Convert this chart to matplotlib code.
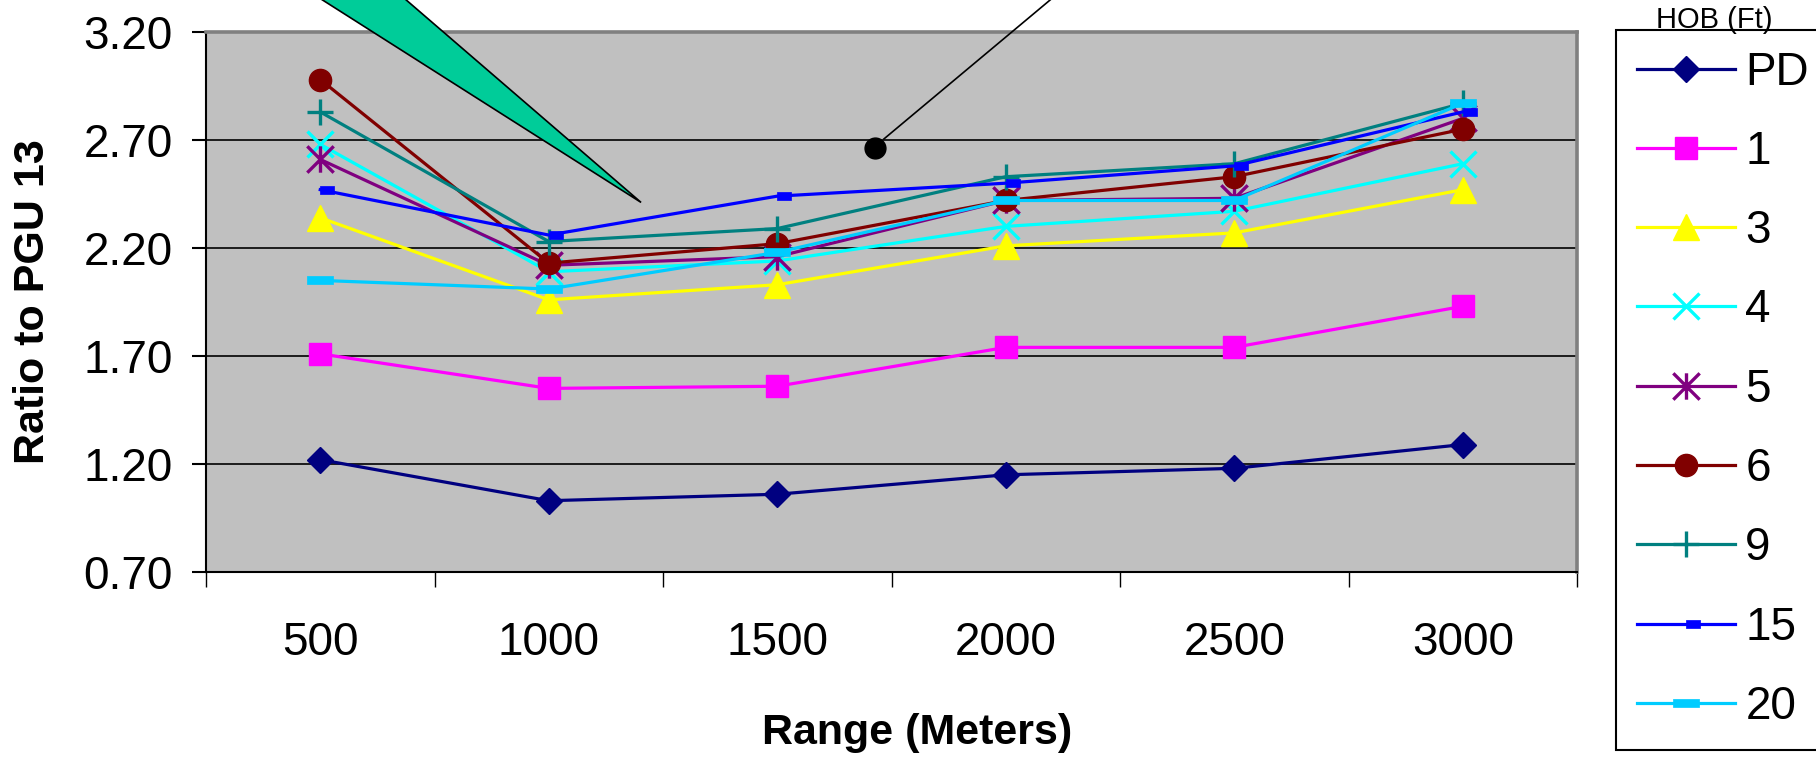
import numpy as np
import matplotlib
matplotlib.use('Agg')
import matplotlib.pyplot as plt
from matplotlib.path import Path
from matplotlib.patches import Polygon

plt.rcParams['font.family'] = ['Liberation Sans', 'DejaVu Sans']

# ratio to PGU 13 vs range, one series per height of burst
ranges = ['500', '1000', '1500', '2000', '2500', '3000']
hob_labels = ['PD', '1', '3', '4', '5', '6', '9', '15', '20']
hob_pd = [1.22, 1.03, 1.06, 1.15, 1.18, 1.29]
hob_1 = [1.71, 1.55, 1.56, 1.74, 1.74, 1.93]
hob_3 = [2.34, 1.96, 2.03, 2.21, 2.27, 2.47]
hob_4 = [2.68, 2.09, 2.14, 2.30, 2.37, 2.59]
hob_5 = [2.61, 2.12, 2.16, 2.42, 2.43, 2.80]
hob_6 = [2.98, 2.13, 2.22, 2.42, 2.53, 2.75]
hob_9 = [2.83, 2.23, 2.29, 2.53, 2.59, 2.87]
hob_15 = [2.47, 2.26, 2.44, 2.50, 2.58, 2.83]
hob_20 = [2.05, 2.01, 2.18, 2.42, 2.42, 2.87]
y_ticks = [0.70, 1.20, 1.70, 2.20, 2.70, 3.20]

# excel-style markers that matplotlib lacks
asterisk = Path([(0, -1), (0, 1), (-1, -1), (1, 1), (-1, 1), (1, -1)],
                [Path.MOVETO, Path.LINETO] * 3)
short_dash = Path([(0, -0.3), (1, -0.3), (1, 0.3), (0, 0.3), (0, -0.3)],
                  [Path.MOVETO, Path.LINETO, Path.LINETO, Path.LINETO, Path.CLOSEPOLY])
long_dash = Path([(-1, -0.3), (1, -0.3), (1, 0.3), (-1, 0.3), (-1, -0.3)],
                 [Path.MOVETO, Path.LINETO, Path.LINETO, Path.LINETO, Path.CLOSEPOLY])

styles = [
    (hob_pd, '#000080', 'D', 13.5, 1),
    (hob_1, '#FF00FF', 's', 16, 1),
    (hob_3, '#FFFF00', '^', 19, 1),
    (hob_4, '#00FFFF', 'x', 19, 2.4),
    (hob_5, '#800080', asterisk, 19, 2.4),
    (hob_6, '#800000', 'o', 16, 1),
    (hob_9, '#008080', '+', 19, 2.4),
    (hob_15, '#0000FF', short_dash, 20, 0.5),
    (hob_20, '#00CCFF', long_dash, 19, 0.5),
]

fig = plt.figure(figsize=(18.16, 7.57), dpi=100)
ax = fig.add_axes([206/1816, 1 - 572/757, (1577 - 206)/1816, (572 - 32)/757])
ax.set_facecolor('#C0C0C0')

x = np.arange(len(ranges))
handles = []
for (vals, color, marker, ms, mew), lab in zip(styles, hob_labels):
    h, = ax.plot(x, vals, color=color, lw=2.3, marker=marker, ms=ms,
                 mec=color, mfc=color, mew=mew, label=lab)
    handles.append(h)

ax.set_xlim(-0.5, len(ranges) - 0.5)
ax.set_ylim(0.70, 3.20)
ax.set_yticks(y_ticks)
ax.set_yticklabels(['%.2f' % v for v in y_ticks])
ax.yaxis.grid(True, color='black', lw=1.2)
ax.set_axisbelow(True)

ax.set_xticks(np.arange(-0.5, len(ranges), 1))
ax.set_xticks(x, minor=True)
ax.set_xticklabels(ranges, minor=True)
ax.tick_params(axis='x', which='major', length=11, width=1, labelbottom=False)
ax.tick_params(axis='x', which='minor', length=0, pad=35, labelsize=33)
ax.tick_params(axis='y', length=10, width=1.5, pad=14, labelsize=33)

for s in ['left', 'bottom']:
    ax.spines[s].set_color('black')
    ax.spines[s].set_linewidth(1.5)
for s in ['top', 'right']:
    ax.spines[s].set_color('#808080')
    ax.spines[s].set_linewidth(2.6)

ax.set_xlabel('Range (Meters)', fontsize=31, fontweight='bold')
ax.xaxis.label.set_va('center')
ax.xaxis.set_label_coords(0.519, -0.298)
ax.set_ylabel('Ratio to PGU 13', fontsize=31, fontweight='bold')
ax.yaxis.label.set_va('center')
ax.yaxis.set_label_coords(-0.126, 0.5)

# callouts from the original slide
wedge = Polygon([(-0.32, 3.57), (0.133, 3.57), (1.404, 2.411)], closed=True,
                facecolor='#00CC99', edgecolor='black', lw=1.2, clip_on=False, zorder=5)
ax.add_patch(wedge)
ax.plot([2.467, 3.29], [2.705, 3.433], color='black', lw=1.2, clip_on=False, zorder=5)
ax.plot([2.428], [2.665], 'o', color='black', ms=15, clip_on=False, zorder=5)

leg = ax.legend(handles=handles, loc='upper left',
                bbox_to_anchor=(1616/1816, 1 - 30/757), bbox_transform=fig.transFigure,
                borderaxespad=0, fancybox=False, edgecolor='black', framealpha=1,
                fontsize=33, handlelength=2.15, handletextpad=0.22,
                borderpad=0.45, labelspacing=0.77)
leg.get_frame().set_linewidth(1.5)
fig.text(1714/1816, 1 - 20/757, 'HOB (Ft)', fontsize=21, ha='center', va='center')

fig.savefig('out.png', dpi=100)
